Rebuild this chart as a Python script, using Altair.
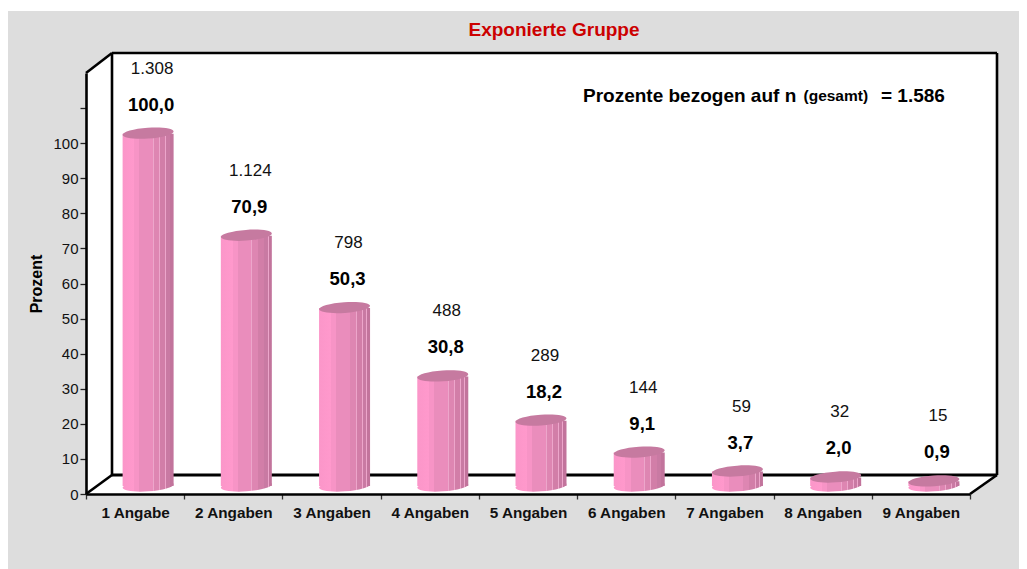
import altair as alt
import pandas as pd

categories = ["1 Angabe", "2 Angaben", "3 Angaben", "4 Angaben", "5 Angaben",
              "6 Angaben", "7 Angaben", "8 Angaben", "9 Angaben"]
percent = [100.0, 70.9, 50.3, 30.8, 18.2, 9.1, 3.7, 2.0, 0.9]
percent_labels = ["100,0", "70,9", "50,3", "30,8", "18,2", "9,1", "3,7", "2,0", "0,9"]
count_labels = ["1.308", "1.124", "798", "488", "289", "144", "59", "32", "15"]

df = pd.DataFrame({"cat": categories, "pct": percent,
                   "pct_label": percent_labels, "count_label": count_labels})

W, H = 884, 421
DX, DY = 13, -9.5
FONT = "Liberation Sans"
ELLIPSE = "M -1 0.07 A 1 0.21 -4 1 1 1 -0.07 A 1 0.21 -4 1 1 -1 0.07 Z"
RIDGE = "#EDA6CB"

stops = [(0.0, "#FB96C9"), (0.23, "#FF99CC"), (0.23, "#F794C6"), (0.33, "#F794C6"),
         (0.33, "#EA8DBC"), (0.60, "#EA8DBC"), (0.60, RIDGE), (0.615, RIDGE),
         (0.615, "#DE86B2"), (0.72, "#DE86B2"), (0.72, RIDGE), (0.735, RIDGE),
         (0.735, "#D27EA8"), (0.84, "#D27EA8"), (0.84, RIDGE), (0.855, RIDGE),
         (0.855, "#C97AA3"), (0.92, "#C97AA3"), (0.92, RIDGE), (0.935, RIDGE),
         (0.935, "#C2749C"), (1.0, "#C2749C")]
shade = alt.LinearGradient(gradient="linear", x1=0, x2=1, y1=0, y2=0,
                           stops=[alt.GradientStop(offset=o, color=c) for o, c in stops])

x_none = alt.X("cat:N", sort=categories, axis=None,
               scale=alt.Scale(type="band", domain=categories, paddingInner=0, paddingOuter=0))
y_scale = alt.Scale(domain=[0, 120], nice=False)
y_none = alt.Y("pct:Q", scale=y_scale, axis=None)


def seg(x1, y1, x2, y2, width=2.6):
    return alt.Chart().mark_rule(color="black", strokeWidth=width).encode(
        x=alt.value(x1), x2=alt.value(x2), y=alt.value(y1), y2=alt.value(y2))


background = alt.Chart().mark_rect(color="#DDDDDD").encode(
    x=alt.value(-78), x2=alt.value(933), y=alt.value(-62), y2=alt.value(496))

walls = alt.Chart(pd.DataFrame({
    "px": [0, 26, W, W + 27], "top": [0, -20, -20, -20], "bottom": [H, H, H, H - 19]
})).mark_area(color="white", interpolate="linear").encode(
    x=alt.X("px:Q", scale=None, axis=None),
    y=alt.Y("top:Q", scale=None, axis=None),
    y2="bottom:Q")

frame_back = [seg(26, -20, W + 27, -20), seg(26, -20, 26, H - 19),
              seg(W + 27, -20, W + 27, H - 19), seg(26, H - 19, W + 27, H - 19, 3)]
frame_side = [seg(0, 0, 26, -20), seg(0, H, 26, H - 19), seg(W, H, W + 27, H - 19)]

axes = alt.Chart(df).mark_bar(opacity=0).encode(
    x=alt.X("cat:N", sort=categories, title=None,
            scale=alt.Scale(type="band", domain=categories, paddingInner=0, paddingOuter=0),
            axis=alt.Axis(labelAngle=0, labelFont=FONT, labelFontSize=15.3, labelFontWeight="bold",
                          labelColor="#111111", labelPadding=6, tickBand="extent", tickExtra=True,
                          tickSize=5, tickColor="#333333", tickWidth=1.3,
                          domainColor="black", domainWidth=2.6, zindex=1, grid=False)),
    y=alt.Y("pct:Q", scale=y_scale,
            axis=alt.Axis(title="Prozent", titleFont=FONT, titleFontSize=16, titleFontWeight="bold",
                          titleColor="black", titlePadding=8,
                          values=list(range(0, 111, 10)),
                          labelExpr="datum.value > 100 ? '' : datum.label",
                          labelFont=FONT, labelFontSize=15, labelColor="#111111", labelPadding=2,
                          tickSize=6, tickColor="#222222", tickWidth=1.3, domainColor="black",
                          domainWidth=2.6, zindex=1, grid=False)))

bottoms = alt.Chart(df).transform_calculate(zero="0").mark_point(
    filled=True, shape=ELLIPSE, size=51 ** 2, opacity=1, fill=shade, yOffset=DY + 1.5, xOffset=DX).encode(
    x=x_none, y=alt.Y("zero:Q", scale=y_scale, axis=None))

bars = alt.Chart(df).mark_bar(size=51, color=shade, xOffset=DX, x2Offset=DX,
                              yOffset=DY, y2Offset=DY + 1.5).encode(
    x=x_none, y=y_none, y2=alt.Y2Datum(0))

tops = alt.Chart(df).mark_point(filled=True, shape=ELLIPSE, size=51 ** 2, opacity=1,
                                fill="#C67AA0", yOffset=DY - 0.5, xOffset=DX).encode(x=x_none, y=y_none)

pct_text = alt.Chart(df).mark_text(font=FONT, fontSize=18.5, fontWeight="bold", color="black",
                                   dx=16, dy=-38.5).encode(x=x_none, y=y_none, text="pct_label:N")
count_text = alt.Chart(df).mark_text(font=FONT, fontSize=17, color="#111111",
                                     dx=17, dy=-74.5).encode(x=x_none, y=y_none, text="count_label:N")


def note(text, px, size):
    return alt.Chart().mark_text(text=text, font=FONT, fontSize=size, fontWeight="bold",
                                 color="black", align="left").encode(
        x=alt.value(px), y=alt.value(23))


notes = [note("Prozente bezogen auf n", 497, 19), note("(gesamt)", 717.5, 15.5), note("= 1.586", 795, 19)]

chart = alt.layer(background, walls, *frame_back, *frame_side, axes, bottoms, bars, tops,
                  pct_text, count_text, *notes).resolve_scale(x="independent", y="independent").properties(
    width=W, height=H,
    title=alt.TitleParams("Exponierte Gruppe", font=FONT, fontSize=19, fontWeight="bold",
                          color="#CC0000", anchor="middle", dx=26, offset=-48, baseline="bottom"),
    autosize=alt.AutoSizeParams(type="none"),
    padding={"left": 78, "top": 65, "right": 49, "bottom": 75},
).configure_view(stroke=None)

chart.save("out.html", embed_options={"renderer": "svg", "actions": False})
